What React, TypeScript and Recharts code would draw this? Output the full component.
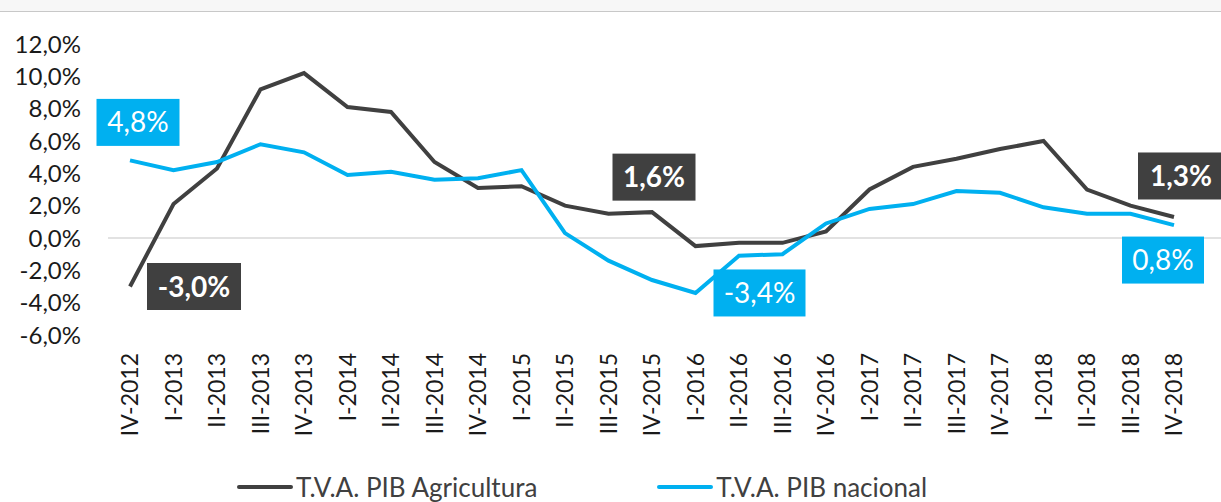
import { LineChart, Line, XAxis, YAxis, ReferenceLine } from 'recharts'

const categories = [
  'IV-2012', 'I-2013', 'II-2013', 'III-2013', 'IV-2013',
  'I-2014', 'II-2014', 'III-2014', 'IV-2014',
  'I-2015', 'II-2015', 'III-2015', 'IV-2015',
  'I-2016', 'II-2016', 'III-2016', 'IV-2016',
  'I-2017', 'II-2017', 'III-2017', 'IV-2017',
  'I-2018', 'II-2018', 'III-2018', 'IV-2018',
]

// T.V.A. PIB Agricultura
const agricultura = [
  -3.0, 2.1, 4.3, 9.2, 10.2, 8.1, 7.8, 4.7, 3.1, 3.2, 2.0, 1.5, 1.6,
  -0.5, -0.3, -0.3, 0.4, 3.0, 4.4, 4.9, 5.5, 6.0, 3.0, 2.0, 1.3,
]

// T.V.A. PIB nacional
const nacional = [
  4.8, 4.2, 4.7, 5.8, 5.3, 3.9, 4.1, 3.6, 3.7, 4.2, 0.3, -1.4, -2.6,
  -3.4, -1.1, -1.0, 0.9, 1.8, 2.1, 2.9, 2.8, 1.9, 1.5, 1.5, 0.8,
]

const yTicks = [-6, -4, -2, 0, 2, 4, 6, 8, 10, 12]

const DARK = '#404040'
const BLUE = '#00B0F0'
const FONT = 'Lato, "Open Sans", sans-serif'

const data = categories.map((c, i) => ({
  name: c,
  agricultura: agricultura[i],
  nacional: nacional[i],
}))

const fmt = (v: number) => v.toFixed(1).replace('.', ',') + '%'

// which points get a boxed callout, and where the box sits relative to the point
type Callout = { dx: number; dy: number; w: number; bold: boolean }
const agriCallouts: Record<number, Callout> = {
  0: { dx: 64, dy: 0, w: 94, bold: true },
  12: { dx: 2, dy: -35, w: 83, bold: true },
  24: { dx: 7, dy: -41, w: 86, bold: true },
}
const nacCallouts: Record<number, Callout> = {
  0: { dx: 8, dy: -38, w: 83, bold: false },
  13: { dx: 64, dy: 0, w: 92, bold: false },
  24: { dx: -11, dy: 35, w: 82, bold: false },
}

const makeLabel = (callouts: Record<number, Callout>, fill: string) => (props: any) => {
  const { x, y, index, value } = props
  const c = callouts[index]
  if (!c || x == null || y == null) return null
  const cx = x + c.dx
  const cy = y + c.dy
  const h = 47
  return (
    <g key={`lbl-${index}`}>
      <rect x={cx - c.w / 2} y={cy - h / 2} width={c.w} height={h} fill={fill} />
      <text
        x={cx}
        y={cy}
        dy="0.36em"
        textAnchor="middle"
        fill="#fff"
        fontSize={28}
        fontWeight={c.bold ? 700 : 400}
        fontFamily={FONT}
      >
        {fmt(value)}
      </text>
    </g>
  )
}

const XTick = ({ x, y, payload }: any) => (
  <text
    transform={`translate(${x},${y}) rotate(-90)`}
    dy="0.36em"
    textAnchor="end"
    fill="#1a1a1a"
    fontSize={23}
    fontFamily={FONT}
  >
    {payload.value}
  </text>
)

const LegendItem = ({ color, label }: { color: string; label: string }) => (
  <div style={{ display: 'flex', alignItems: 'center' }}>
    <div style={{ width: 56, height: 4, background: color, borderRadius: 2, marginRight: 3 }} />
    <span>{label}</span>
  </div>
)

export default function App() {
  return (
    <div style={{ position: 'absolute', left: 0, top: 0, width: 1221, height: 502, background: '#fff', overflow: 'hidden' }}>
      <div style={{ position: 'absolute', left: 0, top: 0, width: 1221, height: 11, background: '#f7f7f7', borderBottom: '1px solid #c8c8c8' }} />
      <LineChart
        width={1221}
        height={502}
        data={data}
        margin={{ top: 44, right: 0, left: 0, bottom: 47 }}
        style={{ position: 'absolute', left: 0, top: 0 }}
      >
        <XAxis
          dataKey="name"
          interval={0}
          height={120}
          axisLine={false}
          tickLine={false}
          tickSize={0}
          tickMargin={18}
          padding={{ left: 22, right: 47 }}
          tick={<XTick />}
        />
        <YAxis
          domain={[-6, 12]}
          ticks={yTicks}
          width={108}
          axisLine={false}
          tickLine={false}
          tickSize={0}
          tickMargin={27}
          tickFormatter={fmt}
          tick={{ fontSize: 24, fill: '#1a1a1a', fontFamily: FONT }}
        />
        <ReferenceLine y={0} stroke="#d9d9d9" strokeWidth={1.5} />
        <Line
          dataKey="agricultura"
          stroke={DARK}
          strokeWidth={4}
          dot={false}
          activeDot={false}
          isAnimationActive={false}
          label={makeLabel(agriCallouts, DARK)}
        />
        <Line
          dataKey="nacional"
          stroke={BLUE}
          strokeWidth={4}
          dot={false}
          activeDot={false}
          isAnimationActive={false}
          label={makeLabel(nacCallouts, BLUE)}
        />
      </LineChart>
      <div
        style={{
          position: 'absolute',
          left: 237,
          top: 472,
          display: 'flex',
          gap: 120,
          fontFamily: FONT,
          fontSize: 26,
          color: '#404040',
          lineHeight: '30px',
        }}
      >
        <LegendItem color={DARK} label="T.V.A. PIB Agricultura" />
        <LegendItem color={BLUE} label="T.V.A. PIB nacional" />
      </div>
    </div>
  )
}
